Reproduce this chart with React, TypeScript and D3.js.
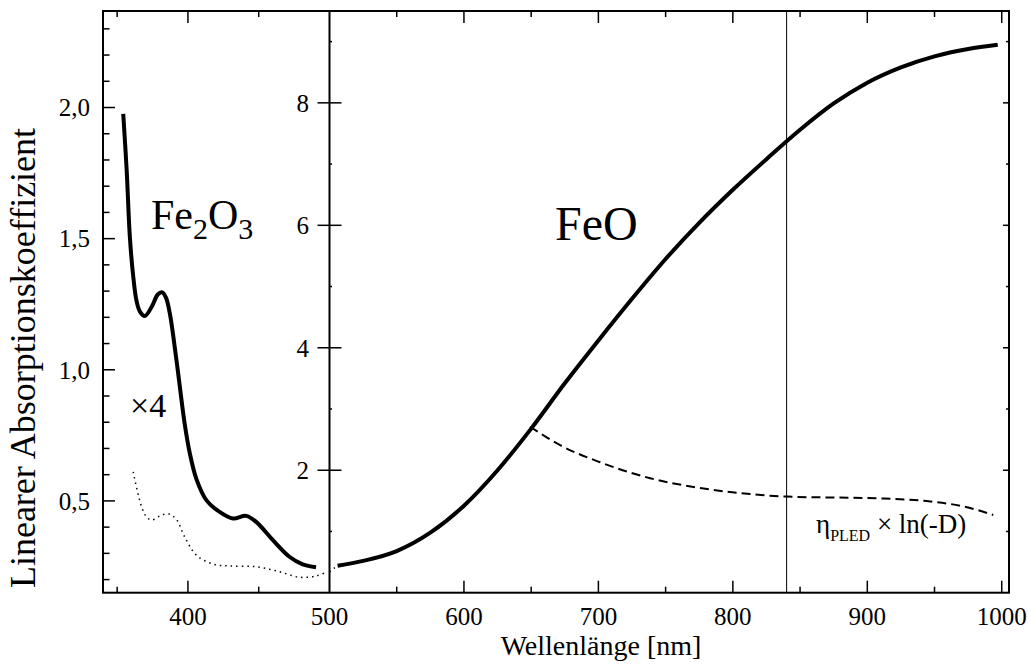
import React from 'react';
import * as d3 from 'd3';

// Fe2O3, thick curve (x4), [wavelength nm, value]
const fe2o3Scaled = [
  [354.3, 1.976], [356.7, 1.763], [359.0, 1.504], [361.3, 1.359], [363.7, 1.262],
  [366.1, 1.222], [369.6, 1.205], [374.5, 1.241], [378.7, 1.287], [381.8, 1.295],
  [384.4, 1.276], [387.2, 1.215], [391.9, 1.036], [397.7, 0.794], [401.3, 0.682],
  [406.0, 0.583], [413.0, 0.503], [422.4, 0.458], [431.8, 0.433], [441.2, 0.443],
  [448.2, 0.420], [459.9, 0.351], [471.7, 0.287], [481.1, 0.258], [490.5, 0.247],
];

// Fe2O3, dotted curve
const fe2o3Raw = [
  [361.3, 0.611], [367.3, 0.477], [370.8, 0.439], [374.4, 0.427], [381.3, 0.446],
  [386.7, 0.450], [391.9, 0.429], [397.7, 0.363], [406.0, 0.293], [417.7, 0.259],
  [429.4, 0.252], [448.2, 0.249], [464.6, 0.230], [478.7, 0.209], [490.5, 0.214],
  [498.7, 0.230],
];

// dotted stub on the right side of the break
const fe2o3Tail = [[500, 0.34], [504, 0.41]];

// FeO, thick curve
const feo = [
  [506, 0.44], [525, 0.52], [550, 0.68], [575, 0.98], [600, 1.42], [625, 2.00],
  [650, 2.68], [675, 3.42], [700, 4.12], [725, 4.80], [750, 5.45], [775, 6.04],
  [800, 6.58], [825, 7.08], [850, 7.56], [875, 7.99], [900, 8.33], [925, 8.58],
  [950, 8.76], [975, 8.88], [997, 8.95],
];

// eta_PLED x ln(-D), dashed
const pled = [
  [649.2, 2.71], [671.5, 2.41], [701.3, 2.13], [738.5, 1.87], [775.7, 1.71],
  [812.9, 1.61], [840.2, 1.57], [909.6, 1.54], [946.8, 1.49], [971.4, 1.41],
  [993.7, 1.27],
];

const markerNm = 840;

const leftXTicks = [350, 400, 450];
const leftXLabels = [400, 500];
const leftYTicks = d3.range(2, 24).map(d => d / 10);
const leftYLabels = [0.5, 1.0, 1.5, 2.0];
const rightXTicks = d3.range(550, 1001, 50);
const rightXLabels = [600, 700, 800, 900, 1000];
const rightYTicks = [1, 2, 3, 4, 5, 6, 7, 8, 9];
const rightYLabels = [2, 4, 6, 8];

const top = 11;
const bottom = 592.7;
const xL = d3.scaleLinear().domain([340, 500]).range([103, 329.5]);
const yL = d3.scaleLinear().domain([0.15, 2.368]).range([bottom, top]);
const xR = d3.scaleLinear().domain([500, 1005.4]).range([329.5, 1009]);
const yR = d3.scaleLinear().domain([0, 9.5]).range([bottom, top]);

const font = '"Liberation Serif", "Times New Roman", serif';

export default function App() {
  const lineL = d3.line().x(d => xL(d[0])).y(d => yL(d[1])).curve(d3.curveCatmullRom.alpha(0.5));
  const lineR = d3.line().x(d => xR(d[0])).y(d => yR(d[1])).curve(d3.curveMonotoneX);
  const fmt = d => d.toFixed(1).replace('.', ',');

  return (
    <div style={{ position: 'absolute', left: 0, top: 0 }}>
      <svg width={1028} height={664} style={{ display: 'block', background: '#fff' }} fontFamily={font}>
        {/* frames */}
        <rect x={103} y={top} width={1009 - 103} height={bottom - top} fill="none" stroke="#000" strokeWidth={2} />
        <line x1={329.5} x2={329.5} y1={top} y2={bottom} stroke="#000" strokeWidth={2} />

        {/* left panel ticks */}
        {leftYTicks.map(t => {
          const major = leftYLabels.some(l => Math.abs(l - t) < 1e-6);
          return <line key={'ly' + t} x1={103} x2={103 + (major ? 12 : 6.5)} y1={yL(t)} y2={yL(t)} stroke="#000" strokeWidth={1.5} />;
        })}
        {leftYLabels.map(t => (
          <text key={'lyl' + t} x={90} y={yL(t)} dy="0.35em" textAnchor="end" fontSize={25}>{fmt(t)}</text>
        ))}
        {leftXTicks.map(t => {
          const len = t % 100 === 0 ? 12 : 6;
          return (
            <g key={'lx' + t}>
              <line x1={xL(t)} x2={xL(t)} y1={bottom} y2={bottom - len} stroke="#000" strokeWidth={1.5} />
              <line x1={xL(t)} x2={xL(t)} y1={top} y2={top + len} stroke="#000" strokeWidth={1.5} />
            </g>
          );
        })}
        {leftXLabels.map(t => (
          <text key={'lxl' + t} x={xL(t)} y={625} textAnchor="middle" fontSize={25}>{t}</text>
        ))}

        {/* right panel ticks */}
        {rightYTicks.map(t => {
          const major = rightYLabels.includes(t);
          return (
            <g key={'ry' + t}>
              {major
                ? <line x1={317.5} x2={341.5} y1={yR(t)} y2={yR(t)} stroke="#000" strokeWidth={1.5} />
                : <line x1={329.5} x2={332} y1={yR(t)} y2={yR(t)} stroke="#000" strokeWidth={1.5} />}
              <line x1={1009} x2={1009 - (major ? 6 : 3)} y1={yR(t)} y2={yR(t)} stroke="#000" strokeWidth={1.5} />
            </g>
          );
        })}
        {rightYLabels.map(t => (
          <text key={'ryl' + t} x={309} y={yR(t)} dy="0.35em" textAnchor="end" fontSize={25}>{t}</text>
        ))}
        {rightXTicks.map(t => {
          const len = t % 100 === 0 ? 12 : 6;
          return (
            <g key={'rx' + t}>
              <line x1={xR(t)} x2={xR(t)} y1={bottom} y2={bottom - len} stroke="#000" strokeWidth={1.5} />
              <line x1={xR(t)} x2={xR(t)} y1={top} y2={top + len} stroke="#000" strokeWidth={1.5} />
            </g>
          );
        })}
        {rightXLabels.map(t => (
          <text key={'rxl' + t} x={xR(t)} y={625} textAnchor="middle" fontSize={25}>{t}</text>
        ))}

        {/* marker line */}
        <line x1={xR(markerNm)} x2={xR(markerNm)} y1={top} y2={bottom} stroke="#000" strokeWidth={1} />

        {/* curves */}
        <path d={lineL(fe2o3Raw)} fill="none" stroke="#000" strokeWidth={1.5} strokeDasharray="1.5,4" />
        <path d={lineL(fe2o3Scaled)} fill="none" stroke="#000" strokeWidth={4} />
        <path d={lineR(fe2o3Tail)} fill="none" stroke="#000" strokeWidth={1.5} strokeDasharray="1.5,4" />
        <path d={lineR(feo)} fill="none" stroke="#000" strokeWidth={4} />
        <path d={lineR(pled)} fill="none" stroke="#000" strokeWidth={2} strokeDasharray="9,5" />

        {/* annotations */}
        <text x={151} y={229} fontSize={42}>
          Fe<tspan fontSize={30} dy={10}>2</tspan><tspan fontSize={42} dy={-10}>O</tspan><tspan fontSize={30} dy={10}>3</tspan>
        </text>
        <text x={555} y={240} fontSize={48}>FeO</text>
        <text x={130} y={417} fontSize={34}>×4</text>
        <text x={816} y={533} fontSize={27}>
          η<tspan fontSize={16} dy={8}>PLED</tspan><tspan fontSize={27} dy={-8}> × ln(-D)</tspan>
        </text>

        {/* axis titles */}
        <text x={601} y={655} textAnchor="middle" fontSize={28}>Wellenlänge [nm]</text>
        <text transform="translate(35,358) rotate(-90)" textAnchor="middle" fontSize={36}>Linearer Absorptionskoeffizient</text>
      </svg>
    </div>
  );
}
